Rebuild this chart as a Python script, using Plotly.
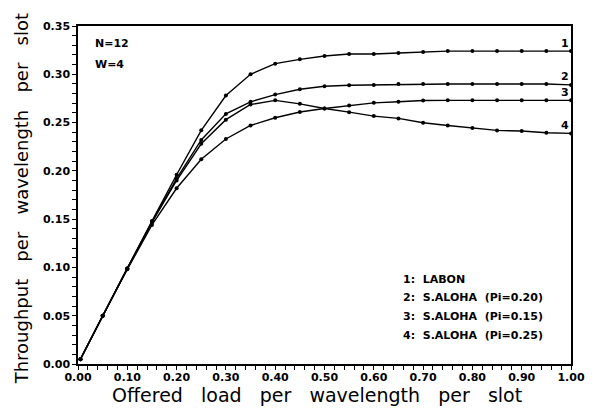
import plotly.graph_objects as go

# Offered load per wavelength per slot
load = [0.005, 0.05, 0.10, 0.15, 0.20, 0.25, 0.30, 0.35, 0.40, 0.45, 0.50,
        0.55, 0.60, 0.65, 0.70, 0.75, 0.80, 0.85, 0.90, 0.95, 1.00]

labon = [0.005, 0.050, 0.099, 0.148, 0.196, 0.242, 0.278, 0.300, 0.311, 0.3155, 0.319,
         0.321, 0.321, 0.322, 0.323, 0.324, 0.324, 0.324, 0.324, 0.324, 0.324]
saloha_020 = [0.005, 0.050, 0.099, 0.147, 0.192, 0.232, 0.259, 0.2715, 0.279, 0.2845, 0.2876,
              0.2887, 0.289, 0.290, 0.290, 0.290, 0.290, 0.290, 0.290, 0.290, 0.289]
saloha_015 = [0.005, 0.050, 0.098, 0.144, 0.182, 0.212, 0.233, 0.247, 0.255, 0.261, 0.2646,
              0.2677, 0.2704, 0.2715, 0.2729, 0.273, 0.273, 0.273, 0.273, 0.273, 0.273]
saloha_025 = [0.005, 0.050, 0.099, 0.147, 0.190, 0.228, 0.253, 0.2687, 0.273, 0.2694, 0.2646,
              0.2608, 0.2567, 0.2543, 0.2498, 0.247, 0.2443, 0.2419, 0.2412, 0.2395, 0.2388]

series = [("1", labon), ("2", saloha_020), ("3", saloha_015), ("4", saloha_025)]
legend_lines = ["1:\u00a0\u00a0LABON",
                "2:\u00a0\u00a0S.ALOHA\u00a0\u00a0(Pi=0.20)",
                "3:\u00a0\u00a0S.ALOHA\u00a0\u00a0(Pi=0.15)",
                "4:\u00a0\u00a0S.ALOHA\u00a0\u00a0(Pi=0.25)"]
params = ["N=12", "W=4"]

x_ticks = [0.0, 0.1, 0.2, 0.3, 0.4, 0.5, 0.6, 0.7, 0.8, 0.9, 1.0]
y_ticks = [0.0, 0.05, 0.10, 0.15, 0.20, 0.25, 0.30, 0.35]
x_minor = [i / 50 for i in range(51)]
y_minor = [i / 100 for i in range(36)]


def tick_text(all_vals, major):
    major_r = {round(v, 4) for v in major}
    return [f"{v:.2f}" if round(v, 4) in major_r else "" for v in all_vals]


SP = "\u00a0\u00a0\u00a0"
x_title = SP.join(["Offered", "load", "per", "wavelength", "per", "slot"])
y_title = SP.join(["Throughput", "per", "wavelength", "per", "slot"])

fig = go.Figure()
for name, vals in series:
    fig.add_trace(go.Scatter(
        x=load, y=vals, mode="lines+markers", name=name,
        line=dict(color="black", width=1.4),
        marker=dict(color="black", size=4),
        showlegend=False))

tick_font = dict(family="DejaVu Sans", size=11, color="black", weight="bold")

fig.update_xaxes(
    range=[0, 1], tickmode="array", tickvals=x_minor, ticktext=tick_text(x_minor, x_ticks),
    showline=True, mirror=True, linecolor="black", linewidth=1.5,
    ticks="outside", ticklen=4, tickwidth=1.1, tickcolor="black",
    ticklabelstandoff=-2,
    showgrid=False, zeroline=False, tickfont=tick_font)
fig.update_yaxes(
    range=[0, 0.35], tickmode="array", tickvals=y_minor, ticktext=tick_text(y_minor, y_ticks),
    showline=True, mirror=True, linecolor="black", linewidth=1.5,
    ticks="outside", ticklen=4, tickwidth=1.1, tickcolor="black",
    showgrid=False, zeroline=False, tickfont=tick_font)

ann = []
# axis titles
ann.append(dict(text=x_title, xref="paper", yref="paper", x=0.484, y=-0.093,
                xanchor="center", yanchor="middle", showarrow=False,
                font=dict(family="DejaVu Sans", size=19, color="black")))
ann.append(dict(text=y_title, xref="paper", yref="paper", x=-0.115, y=0.488,
                xanchor="center", yanchor="middle", showarrow=False, textangle=-90,
                font=dict(family="DejaVu Sans", size=18, color="black")))
# parameters
small_font = dict(family="DejaVu Sans", size=11, color="black", weight="bold")
for i, t in enumerate(params):
    ann.append(dict(text=t, xref="paper", yref="paper", x=0.03, y=0.947 - i * 0.062,
                    xanchor="left", yanchor="middle", showarrow=False, font=small_font))
# legend text
for i, t in enumerate(legend_lines):
    ann.append(dict(text=t, xref="paper", yref="paper", x=0.655, y=0.251 - i * 0.0555,
                    xanchor="left", yanchor="middle", showarrow=False, font=small_font))
# curve numbers at the right end
for name, vals in series:
    ann.append(dict(text=name, xref="x", yref="y", x=load[-1], y=vals[-1],
                    xshift=-6, yshift=8, xanchor="center", yanchor="middle",
                    showarrow=False,
                    font=dict(family="DejaVu Sans", size=11, color="black", weight="bold")))

# the page body adds an 8px offset, so the figure is sized to fit the window
fig.update_layout(
    width=589, height=406,
    margin=dict(l=70, r=21, t=16, b=50),
    paper_bgcolor="white", plot_bgcolor="white",
    annotations=ann)

fig.write_html("out.html")
